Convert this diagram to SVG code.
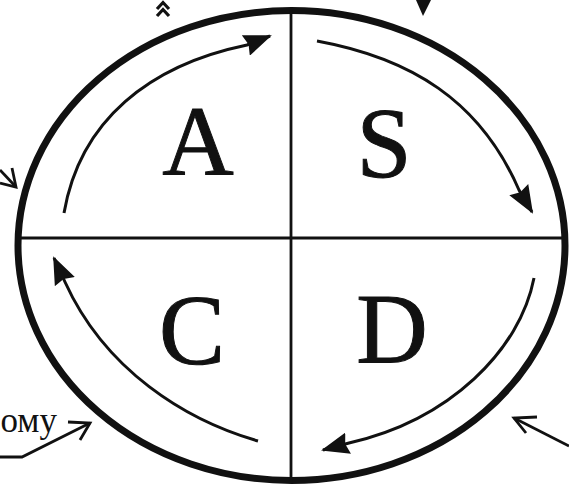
<svg xmlns="http://www.w3.org/2000/svg" width="569" height="488" viewBox="0 0 569 488">
<style>
.frame{fill:none;stroke:#111;stroke-width:7}
.div{stroke:#111;stroke-width:2.8;fill:none}
.arc{fill:none;stroke:#111;stroke-width:3}
.ext{fill:none;stroke:#111;stroke-width:2.8;stroke-linejoin:miter}
.big{font-family:"Liberation Serif","Times New Roman",serif;font-size:99px;fill:#111;stroke:#111;stroke-width:1;text-anchor:middle}
.small{font-family:"Liberation Serif","Times New Roman",serif;font-size:35px;fill:#111}
</style>
<defs>
<marker id="ah" viewBox="0 0 28 22" refX="26" refY="11" markerWidth="28" markerHeight="22" markerUnits="userSpaceOnUse" orient="auto">
<polygon points="0,0 28,11 0,22 3,11" fill="#111"/>
</marker>
</defs>
<rect width="569" height="488" fill="#fff"/>
<g id="frame">
<ellipse class="frame" cx="291.5" cy="245.5" rx="273.5" ry="235"/>
<line class="div" x1="291" y1="10" x2="291" y2="481"/>
<line class="div" x1="20" y1="238" x2="565" y2="238"/>
</g>
<g id="node-A"><text class="big" x="198" y="175">A</text></g>
<g id="node-S"><text class="big" x="384" y="176">S</text></g>
<g id="node-C"><text class="big" x="192" y="363">C</text></g>
<g id="node-D"><text class="big" x="392" y="362">D</text></g>
<g id="connectors">
<path class="arc" d="M 64 213 C 80 120, 150 65, 247 45 L 270 36" marker-end="url(#ah)"/>
<path class="arc" d="M 317 41 C 410 58, 480 100, 519 190 L 532 212" marker-end="url(#ah)"/>
<path class="arc" d="M 534 278 C 520 350, 450 420, 349 443 L 323 450" marker-end="url(#ah)"/>
<path class="arc" d="M 258 441 C 185 420, 105 370, 65 282 L 54 258" marker-end="url(#ah)"/>
</g>
<g id="outer">
<polyline class="ext" style="stroke-width:3.2" points="157,9 163,2.5 169,9"/>
<polyline class="ext" style="stroke-width:3.2" points="157,16 163,9.5 169,16"/>
<polygon points="416,0 431,0 423,16" fill="#111"/>
<line class="ext" x1="0" y1="170" x2="16" y2="187"/>
<polyline class="ext" points="12,168 16,187 0,183"/>
<text class="small" x="57" y="432" text-anchor="end">ому</text>
<polyline class="ext" points="0,457 22,457 90,423"/>
<polyline class="ext" points="68,422 90,423 80,440"/>
<line class="ext" x1="569" y1="446" x2="514" y2="418"/>
<polyline class="ext" points="537,417 514,418 526,433"/>
</g>
</svg>
